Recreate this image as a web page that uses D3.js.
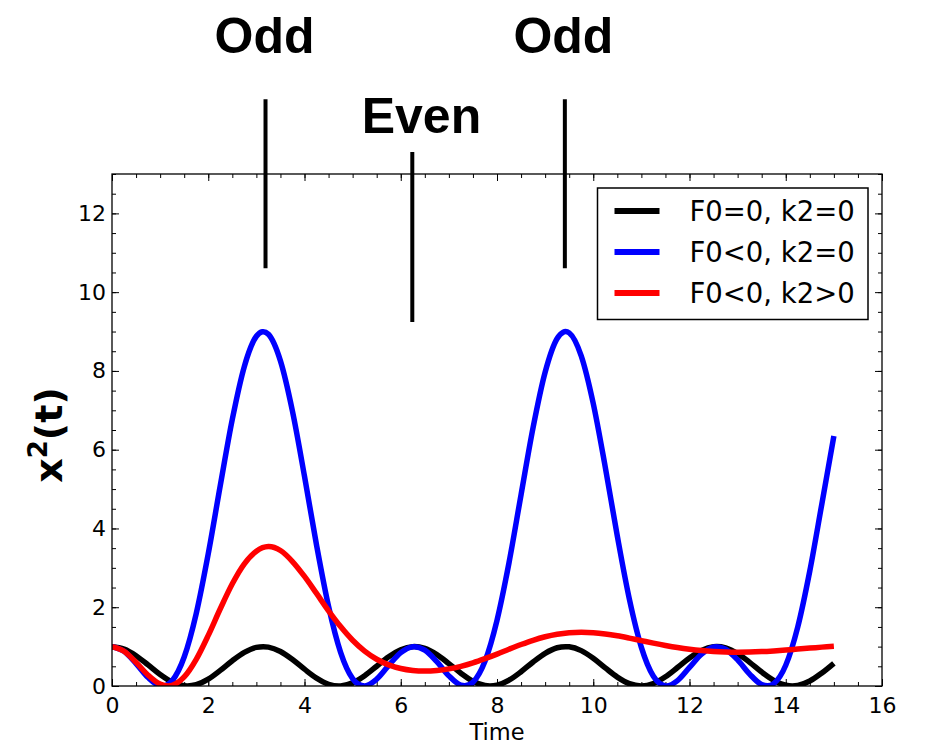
<!DOCTYPE html>
<html><head><meta charset="utf-8">
<script src="https://cdn.jsdelivr.net/npm/d3@7"></script>
<style>body{margin:0;background:#fff}</style>
</head><body><svg id="chart" width="928" height="746"></svg>
<script>
// ---- data ----
const time = [0,0.25,0.5,0.75,1,1.25,1.5,1.75,2,2.25,2.5,2.75,3,3.25,3.5,3.75,4,4.25,4.5,4.75,5,5.25,5.5,5.75,6,6.25,6.5,6.75,7,7.25,7.5,7.75,8,8.25,8.5,8.75,9,9.25,9.5,9.75,10,10.25,10.5,10.75,11,11.25,11.5,11.75,12,12.25,12.5,12.75,13,13.25,13.5,13.75,14,14.25,14.5,14.75,15];
const seriesBlack = [1.000,0.939,0.770,0.535, 0.292,0.099,0.005,0.032, 0.173,0.395,0.642,0.854, 0.980,0.988,0.877,0.673, 0.427,0.199,0.044,0.001, 0.080,0.262,0.502,0.742, 0.922,0.999,0.954,0.797, 0.568,0.325,0.120,0.011, 0.021,0.148,0.362,0.610, 0.830,0.971,0.994,0.898, 0.704,0.460,0.226,0.059, 0.000,0.063,0.234,0.469, 0.712,0.903,0.996,0.967, 0.823,0.601,0.354,0.143, 0.019,0.013,0.126,0.331, 0.577];
const seriesBlue = [1.000,0.880,0.570,0.215, 0.006,0.136,0.737,1.840, 3.357,5.091,6.772,8.115, 8.880,8.930,8.254,6.975, 5.324,3.580,2.021,0.855, 0.187,0.001,0.174,0.522, 0.847,0.998,0.909,0.618, 0.258,0.019,0.094,0.628, 1.667,3.133,4.858,6.562, 7.965,8.823,8.966,8.382, 7.172,5.555,3.807,2.209, 0.982,0.247,0.001,0.137, 0.473,0.811,0.991,0.934, 0.664,0.303,0.036,0.059, 0.528,1.502,2.923,4.623, 6.347];
const seriesRed = [1.000,0.884,0.600,0.275, 0.047,0.017,0.230,0.677, 1.286,1.961,2.596,3.102, 3.423,3.540,3.440,3.161, 2.782,2.350,1.909,1.508, 1.161,0.885,0.679,0.535, 0.443,0.393,0.378,0.393, 0.434,0.500,0.587,0.693, 0.810,0.934,1.053,1.161, 1.250,1.315,1.354,1.367, 1.355,1.322,1.274,1.215, 1.152,1.089,1.030,0.977, 0.933,0.899,0.875,0.862, 0.857,0.861,0.873,0.891, 0.912,0.937,0.962,0.987, 1.010];
const seriesNames = ["F0=0, k2=0", "F0<0, k2=0", "F0<0, k2>0"];
const seriesColors = ["#000000", "#0000ff", "#ff0000"];
const xTicks = [0,2,4,6,8,10,12,14,16];
const yTicks = [0,2,4,6,8,10,12];
const xDomain = [0,16];
const yDomain = [0,13];
const annoLabels = ["Odd", "Even", "Odd"];
const annoLabelT = [3.17, 6.43, 9.38];
const annoLabelY = [16.07, 14.04, 16.07];
const annoLineT = [3.19, 6.24, 9.41];
const annoLineTop = [14.90, 13.56, 14.90];
const annoLineBottom = [10.61, 9.24, 10.61];

// ---- layout ----
const W = 928, H = 746;
const margin = {left:112, right:46, top:174, bottom:60};
const svg = d3.select("#chart");
const x = d3.scaleLinear(xDomain, [margin.left, W - margin.right]);
const y = d3.scaleLinear(yDomain, [H - margin.bottom, margin.top]);
const tickFont = "'DejaVu Sans', sans-serif";

svg.append("defs").append("clipPath").attr("id","plotclip")
  .append("rect").attr("x", x(0)).attr("y", y(13)).attr("width", x(16)-x(0)).attr("height", y(0)-y(13));

// axes (ticks inside on all sides)
function styleAxis(g){
  g.select(".domain").remove();
  g.selectAll(".tick line").attr("stroke","#000").attr("stroke-width",1);
  g.selectAll("text").attr("fill","#000").style("font-family",tickFont).style("font-size","22px");
}
const xMinor = x.ticks(32), yMinor = y.ticks(26);
svg.append("g").attr("transform",`translate(0,${y(0)})`)
  .call(d3.axisBottom(x).tickValues(xMinor).tickSize(-4).tickFormat("")).call(styleAxis);
svg.append("g").attr("transform",`translate(0,${y(13)})`)
  .call(d3.axisTop(x).tickValues(xMinor).tickSize(-4).tickFormat("")).call(styleAxis);
svg.append("g").attr("transform",`translate(${x(0)},0)`)
  .call(d3.axisLeft(y).tickValues(yMinor).tickSize(-4).tickFormat("")).call(styleAxis);
svg.append("g").attr("transform",`translate(${x(16)},0)`)
  .call(d3.axisRight(y).tickValues(yMinor).tickSize(-4).tickFormat("")).call(styleAxis);

svg.append("g").attr("transform",`translate(0,${y(0)})`)
  .call(d3.axisBottom(x).tickValues(xTicks).tickSize(-7).tickPadding(11).tickFormat(d3.format("d"))).call(styleAxis);
svg.append("g").attr("transform",`translate(0,${y(13)})`)
  .call(d3.axisTop(x).tickValues(xTicks).tickSize(-7).tickFormat("")).call(styleAxis);
svg.append("g").attr("transform",`translate(${x(0)},0)`)
  .call(d3.axisLeft(y).tickValues(yTicks).tickSize(-7).tickPadding(6).tickFormat(d3.format("d"))).call(styleAxis);
svg.append("g").attr("transform",`translate(${x(16)},0)`)
  .call(d3.axisRight(y).tickValues(yTicks).tickSize(-7).tickFormat("")).call(styleAxis);

// lines
const seriesList = [seriesBlack, seriesBlue, seriesRed];
const line = d3.line().x((d,i)=>x(time[i])).y(d=>y(d)).curve(d3.curveCatmullRom.alpha(0));
const plot = svg.append("g").attr("clip-path","url(#plotclip)");
seriesList.forEach((s,k)=>{
  plot.append("path").datum(s).attr("d",line).attr("fill","none")
    .attr("stroke",seriesColors[k]).attr("stroke-width",5.5).attr("stroke-linejoin","round").attr("stroke-linecap","butt");
});

// frame
svg.append("rect").attr("x",x(0)).attr("y",y(13)).attr("width",x(16)-x(0)).attr("height",y(0)-y(13))
  .attr("fill","none").attr("stroke","#000").attr("stroke-width",1.3);

// annotations
annoLineT.forEach((t,i)=>{
  svg.append("line").attr("x1",x(t)).attr("x2",x(t)).attr("y1",y(annoLineTop[i])).attr("y2",y(annoLineBottom[i]))
    .attr("stroke","#000").attr("stroke-width",4);
});
annoLabels.forEach((lab,i)=>{
  svg.append("text").attr("x",x(annoLabelT[i])).attr("y",y(annoLabelY[i])).attr("text-anchor","middle")
    .style("font-family","'Liberation Sans', Arial, sans-serif").style("font-weight","bold").style("font-size","50px")
    .attr("fill","#000").text(lab);
});

// axis labels
svg.append("text").attr("x",(x(0)+x(16))/2).attr("y",740).attr("text-anchor","middle")
  .style("font-family",tickFont).style("font-size","22.5px").attr("fill","#000").text("Time");
const yl = svg.append("text").attr("transform","translate(62,435) rotate(-90)").attr("text-anchor","middle")
  .style("font-family",tickFont).style("font-weight","bold").style("font-size","38px").attr("fill","#000");
yl.append("tspan").text("x");
yl.append("tspan").attr("dy",-15).style("font-size","26px").text("2");
yl.append("tspan").attr("dy",15).text("(t)");

// legend
const lg = svg.append("g").attr("transform",`translate(${x(16)-284.5},${y(13)+14})`);
lg.append("rect").attr("width",270.5).attr("height",131.5).attr("fill","#fff").attr("stroke","#000").attr("stroke-width",1.5);
seriesNames.forEach((nm,i)=>{
  const ry = 23 + i*41;
  lg.append("line").attr("x1",17).attr("x2",62).attr("y1",ry).attr("y2",ry).attr("stroke",seriesColors[i]).attr("stroke-width",6);
  lg.append("text").attr("x",92).attr("y",ry).attr("dy","0.36em")
    .style("font-family",tickFont).style("font-size","27.5px").attr("fill","#000").text(nm);
});
</script></body></html>
